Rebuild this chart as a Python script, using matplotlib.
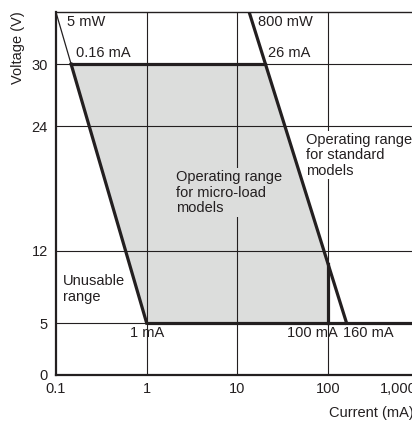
import numpy as np
import matplotlib
matplotlib.use("Agg")
import matplotlib.pyplot as plt
from matplotlib.transforms import ScaledTranslation

plt.rcParams['font.family'] = ['Liberation Sans', 'DejaVu Sans']

# 直线数据 (电流 mA, 电压 V)
line_5mw_x = [0.1, 1.0]
line_5mw_y = [35, 5]
line_800mw_x = [13.5, 160]
line_800mw_y = [35, 5]
v_top = 30
v_min = 5
i_max_micro = 100
x_ticks = [0.1, 1, 10, 100, 1000]
x_tick_labels = ["0.1", "1", "10", "100", "1,000"]
y_ticks = [0, 5, 12, 24, 30]

ink = "#231f20"
gray = "#dcdddc"

def x_at(xs, ys, y):
    lx = np.log10(xs)
    return 10 ** np.interp(y, ys[::-1], lx[::-1])

def y_at(xs, ys, x):
    return np.interp(np.log10(x), np.log10(xs), ys)

x_left30 = x_at(line_5mw_x, line_5mw_y, v_top)
x_right30 = x_at(line_800mw_x, line_800mw_y, v_top)
y_100 = y_at(line_800mw_x, line_800mw_y, i_max_micro)

fig = plt.figure(figsize=(4.12, 4.21), dpi=100)
ax = fig.add_axes([0.1359, 0.1093, 0.9469, 0.8615])
ax.set_xscale('log')
ax.set_xlim(0.1, 2000)
ax.set_ylim(0, 35)

# 网格
for x in x_ticks[1:]:
    ax.axvline(x, color=ink, lw=0.8, zorder=1)
for y in y_ticks[1:]:
    ax.axhline(y, color=ink, lw=0.8, zorder=1)

# 灰色区域
poly_x = [x_left30, x_right30, i_max_micro, i_max_micro, line_5mw_x[1]]
poly_y = [v_top, v_top, y_100, v_min, v_min]
ax.fill(poly_x, poly_y, color=gray, zorder=0.5, lw=0)

lw = 2.3
ax.plot([line_5mw_x[0], x_left30], [line_5mw_y[0], v_top], color=ink, lw=0.9, zorder=3)
ax.plot([x_left30, line_5mw_x[1]], [v_top, line_5mw_y[1]], color=ink, lw=lw, zorder=3)
ax.plot([x_left30, x_right30], [v_top, v_top], color=ink, lw=lw, zorder=3)
ax.plot(line_800mw_x, line_800mw_y, color=ink, lw=lw, zorder=3)
ax.plot([line_5mw_x[1], 3000], [v_min, v_min], color=ink, lw=lw, zorder=3, solid_capstyle='butt')
ax.plot([i_max_micro, i_max_micro], [v_min, y_100], color=ink, lw=lw, zorder=3)

for s in ['left', 'bottom']:
    ax.spines[s].set_linewidth(1.6)
    ax.spines[s].set_color(ink)
ax.spines['top'].set_linewidth(1.0)
ax.spines['top'].set_color(ink)
ax.spines['right'].set_visible(False)

ax.set_xticks(x_ticks)
ax.set_xticklabels(x_tick_labels)
ax.minorticks_off()
ax.set_yticks(y_ticks)
ax.tick_params(length=0, labelsize=10.5, colors=ink, pad=6)
ax.tick_params(axis='x', pad=5)
# "1,000" 标签向左移
lab = ax.get_xticklabels()[-1]
lab.set_transform(lab.get_transform() + ScaledTranslation(-0.20, 0, fig.dpi_scale_trans))

fs = 10.5
kw = dict(fontsize=fs, color=ink, zorder=4)
ax.text(0.132, 34.1, "5 mW", ha='left', va='center', **kw)
ax.text(0.166, 31.1, "0.16 mA", ha='left', va='center', **kw)
ax.text(16.9, 34.1, "800 mW", ha='left', va='center', **kw)
ax.text(21.7, 31.1, "26 mA", ha='left', va='center', **kw)
ax.text(57, 21.2, "Operating range\nfor standard\nmodels", ha='left', va='center',
        linespacing=1.15, bbox=dict(facecolor='white', edgecolor='none', pad=1), **kw)
ax.text(2.1, 17.6, "Operating range\nfor micro-load\nmodels", ha='left', va='center',
        linespacing=1.15, bbox=dict(facecolor=gray, edgecolor='none', pad=1), **kw)
ax.text(0.1186, 8.3, "Unusable\nrange", ha='left', va='center', linespacing=1.15, **kw)
ax.text(1.0, 4.06, "1 mA", ha='center', va='center', **kw)
ax.text(35.2, 4.06, "100 mA", ha='left', va='center', **kw)
ax.text(146, 4.06, "160 mA", ha='left', va='center', **kw)

fig.text(0.044, 0.886, "Voltage (V)", rotation=90, ha='center', va='center', fontsize=fs, color=ink)
fig.text(0.798, 0.019, "Current (mA)", ha='left', va='center', fontsize=fs, color=ink)

fig.savefig("out.png", dpi=100)
